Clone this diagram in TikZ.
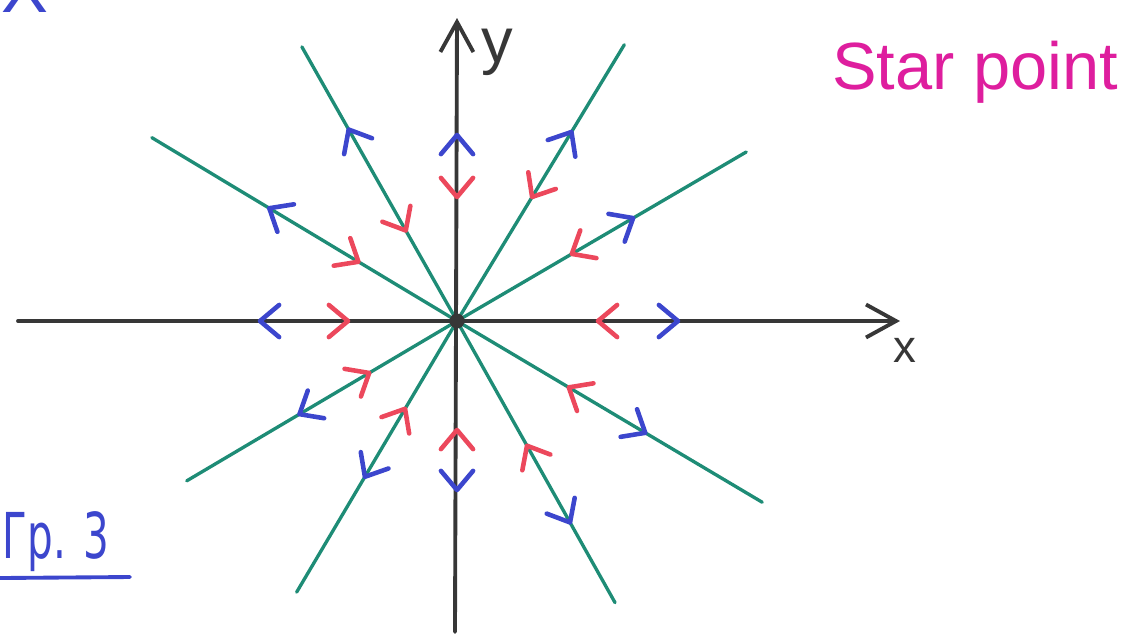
\documentclass[tikz,border=0pt]{standalone}
\usepackage{fontspec}
\setsansfont{Liberation Sans}
\newfontfamily\cyrfont{DejaVu Sans}
\usetikzlibrary{arrows.meta}

\definecolor{raygreen}{RGB}{30,140,118}
\definecolor{axisgray}{RGB}{55,55,55}
\definecolor{outblue}{RGB}{60,70,205}
\definecolor{inred}{RGB}{236,72,92}
\definecolor{titlepink}{RGB}{222,30,158}

\begin{document}
\begin{tikzpicture}[>={Straight Barb[length=3mm,width=3.3mm]}, line cap=round, line join=round]

    % 1. Frame and main points (1 px of the sheet = 0.01 cm, origin at the star point)
    \useasboundingbox (-4.57,-3.19) rectangle (6.78,3.21);
    \coordinate (O) at (0, 0);
    \coordinate (xL) at (-4.39, 0);
    \coordinate (xR) at (4.43, 0);
    \coordinate (yB) at (-0.02, -3.11);
    \coordinate (yT) at (0, 3.03);

    % 2. Green rays through the origin (angle / length)
    \foreach \a/\l in {30.3/3.35, 58.8/3.23, 119.5/3.15, 149/3.56,
                       210.6/3.14, 239.4/3.15, 299.3/3.23, 329.3/3.55}
        \draw[raygreen, line width=0.95pt] (O) -- (\a:\l);

    % 3. Axes with open arrow heads
    \draw[->, axisgray, line width=1.1pt] (xL) -- (xR);
    \draw[->, axisgray, line width=1.1pt] (yB) -- (yT);
    \fill[axisgray] (O) circle (0.075);

    % 4. Chevrons: blue pointing away, red pointing towards the origin
    \foreach \a/\b/\r in {0/2.21/1.41, 90/1.86/1.24, 180/1.97/1.09, 270/1.69/1.09,
                          30.3/2.04/1.33, 58.8/2.21/1.45, 119.5/2.20/1.04, 149/2.19/1.15,
                          210.6/1.83/1.02, 239.4/1.81/1.02, 299.3/2.31/1.43, 329.3/2.19/1.30}
    {
        \draw[outblue, line width=1.3pt, shift={(\a:\b)}] (\a+140:0.25) -- (0,0) -- (\a+220:0.25);
        \draw[inred, line width=1.3pt, shift={(\a:\r)}] (\a+40:0.25) -- (0,0) -- (\a-40:0.25);
    }

    % 5. Labels
    \node[axisgray, font=\sffamily\fontsize{18}{22}\selectfont] (ylab) at (0.40, 2.69) {y};
    \node[axisgray, font=\sffamily\fontsize{13}{16}\selectfont] (xlab) at (4.48, -0.29) {x};
    \node[titlepink, font=\sffamily\fontsize{19}{23}\selectfont] (title) at (5.18, 2.49) {Star point};
    \node[outblue, font=\cyrfont\fontsize{18}{22}\selectfont, xscale=0.64, anchor=base west]
        (grp) at (-4.62, -2.37) {Гр. 3};
    \draw[outblue, line width=1.1pt] (-4.57, -2.57) -- (-3.27, -2.56);
    \node[outblue, font=\sffamily\fontsize{20}{24}\selectfont] (topx) at (-4.32, 3.33) {X};

\end{tikzpicture}
\end{document}
